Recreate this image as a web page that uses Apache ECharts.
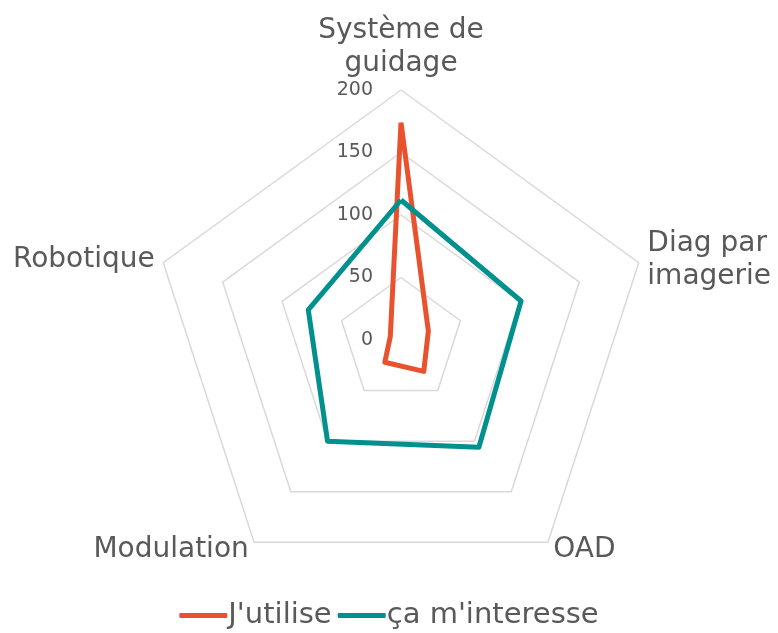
<!DOCTYPE html>
<html>
<head>
<meta charset="utf-8">
<script src="https://cdn.jsdelivr.net/npm/echarts@6/dist/echarts.min.js"></script>
<style>
  html, body { margin: 0; padding: 0; background: #fff; }
  #chart { width: 778px; height: 633px; }
</style>
</head>
<body>
<div id="chart"></div>
<script>
// axes of the radar, clockwise from the top
var indicators = ["Système de\nguidage", "Diag par\nimagerie", "OAD", "Modulation", "Robotique"];
var maxValue = 200;
// series
var jUtilise = [174, 23, 31, 22, 9];
var caMInteresse = [112, 101, 106, 100, 78];

var colors = ["#E9522F", "#00918F"];
var textColor = "#595959";
var font = "DejaVu Sans";

// echarts radar runs counterclockwise: keep first axis, reverse the rest
function cw(arr) {
  return [arr[0]].concat(arr.slice(1).reverse());
}

var chart = echarts.init(document.getElementById("chart"), null, { renderer: "canvas" });

var option = {
  color: colors,
  animation: false,
  legend: {
    bottom: -2,
    left: "center",
    itemWidth: 48,
    itemHeight: 5,
    itemGap: 6,
    icon: "roundRect",
    textStyle: { color: textColor, fontSize: 29, fontFamily: font, padding: [0, 0, 0, -4] },
    data: ["J'utilise", "ça m'interesse"]
  },
  radar: {
    center: [401, 340],
    radius: 250,
    startAngle: 90,
    splitNumber: 4,
    shape: "polygon",
    nameGap: 9,
    axisName: {
      color: textColor,
      fontSize: 28,
      fontFamily: font,
      lineHeight: 33
    },
    axisLine: { show: false },
    axisTick: { show: false },
    axisLabel: { show: false },
    splitArea: { show: false },
    splitLine: { lineStyle: { color: "#d9d9d9", width: 1.5 } },
    indicator: cw(indicators).map(function (n, i) {
      var ind = { name: n, min: 0, max: maxValue };
      if (i === 0) {
        // tick labels only along the first axis
        ind.axisLabel = {
          show: true,
          color: textColor,
          fontSize: 19,
          fontFamily: font,
          margin: 28
        };
      }
      return ind;
    })
  },
  series: [
    {
      type: "radar",
      symbol: "none",
      data: [
        { name: "J'utilise", value: cw(jUtilise), lineStyle: { width: 5, color: colors[0] } },
        { name: "ça m'interesse", value: cw(caMInteresse), lineStyle: { width: 5, color: colors[1] } }
      ]
    }
  ]
};
chart.setOption(option);
</script>
</body>
</html>
